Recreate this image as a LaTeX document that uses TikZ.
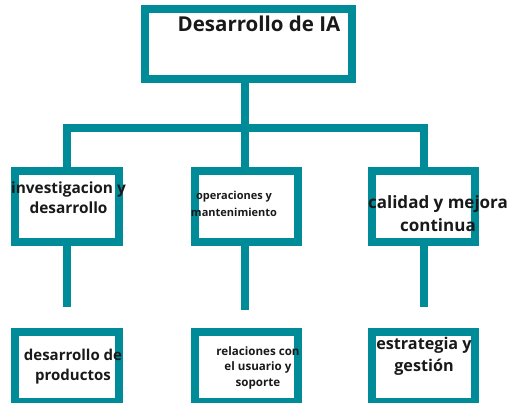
\documentclass[tikz,border=0pt]{standalone}
\usepackage{fontspec}
\setmainfont{Open Sans}
\definecolor{iateal}{RGB}{0,139,153}
\definecolor{iatexto}{RGB}{25,25,25}
\tikzset{
  caja/.style = {draw=iateal, line width=8pt, minimum width=104pt, minimum height=71pt, inner sep=0pt},
  linea/.style = {draw=iateal, line width=8pt},
  texto/.style = {align=center, inner sep=0pt, text=iatexto},
}
\begin{document}
\begin{tikzpicture}[x=1pt,y=-1pt]
\useasboundingbox (0,0) rectangle (512,403);
% cajas
\node[caja, minimum width=207pt, minimum height=70pt] (raiz) at (248.5,44) {};
\node[caja] (inv) at (67,206.5) {};
\node[caja, minimum width=103pt] (oper) at (246.5,206.5) {};
\node[caja, minimum width=103pt] (cal) at (423.5,206.5) {};
\node[caja, minimum height=70pt] (prod) at (67,367) {};
\node[caja, minimum width=103pt, minimum height=70pt] (rel) at (246.5,367) {};
\node[caja, minimum width=103pt, minimum height=70pt] (est) at (423.5,367) {};
% conexiones
\coordinate (bus) at (245,128);
\coordinate (invfin) at (67,307);
\coordinate (operfin) at (245,310);
\coordinate (calfin) at (423.5,307);
\draw[linea] (bus |- raiz.south) -- (bus);
\draw[linea] (inv.north) |- (bus) -| (cal.north);
\draw[linea] (bus) -- (bus |- oper.north);
\draw[linea] (inv.south) -- (invfin);
\draw[linea] (operfin |- oper.south) -- (operfin);
\draw[linea] (cal.south) -- (calfin);
% textos
\node[texto, font=\bfseries\fontsize{20.5}{24}\selectfont] (traiz) at (259,24) {Desarrollo de IA};
\node[texto, font=\bfseries\fontsize{15.4}{20}\selectfont] (tinv) at (68.5,198) {investigacion y\\desarrollo};
\node[texto, font=\bfseries\fontsize{11}{17}\selectfont] (toper) at (234,203.5) {operaciones y\\mantenimiento};
\node[texto, font=\bfseries\fontsize{17}{23}\selectfont] (tcal) at (438,213.5) {calidad y mejora\\continua};
\node[texto, font=\bfseries\fontsize{15}{20}\selectfont] (tprod) at (73,367) {desarrollo de\\productos};
\node[texto, font=\bfseries\fontsize{11.6}{15.5}\selectfont] (trel) at (258,367.5) {relaciones con\\el usuario y\\soporte};
\node[texto, font=\bfseries\fontsize{16.2}{22}\selectfont] (test) at (424,356) {estrategia y\\gestión};
\end{tikzpicture}
\end{document}
